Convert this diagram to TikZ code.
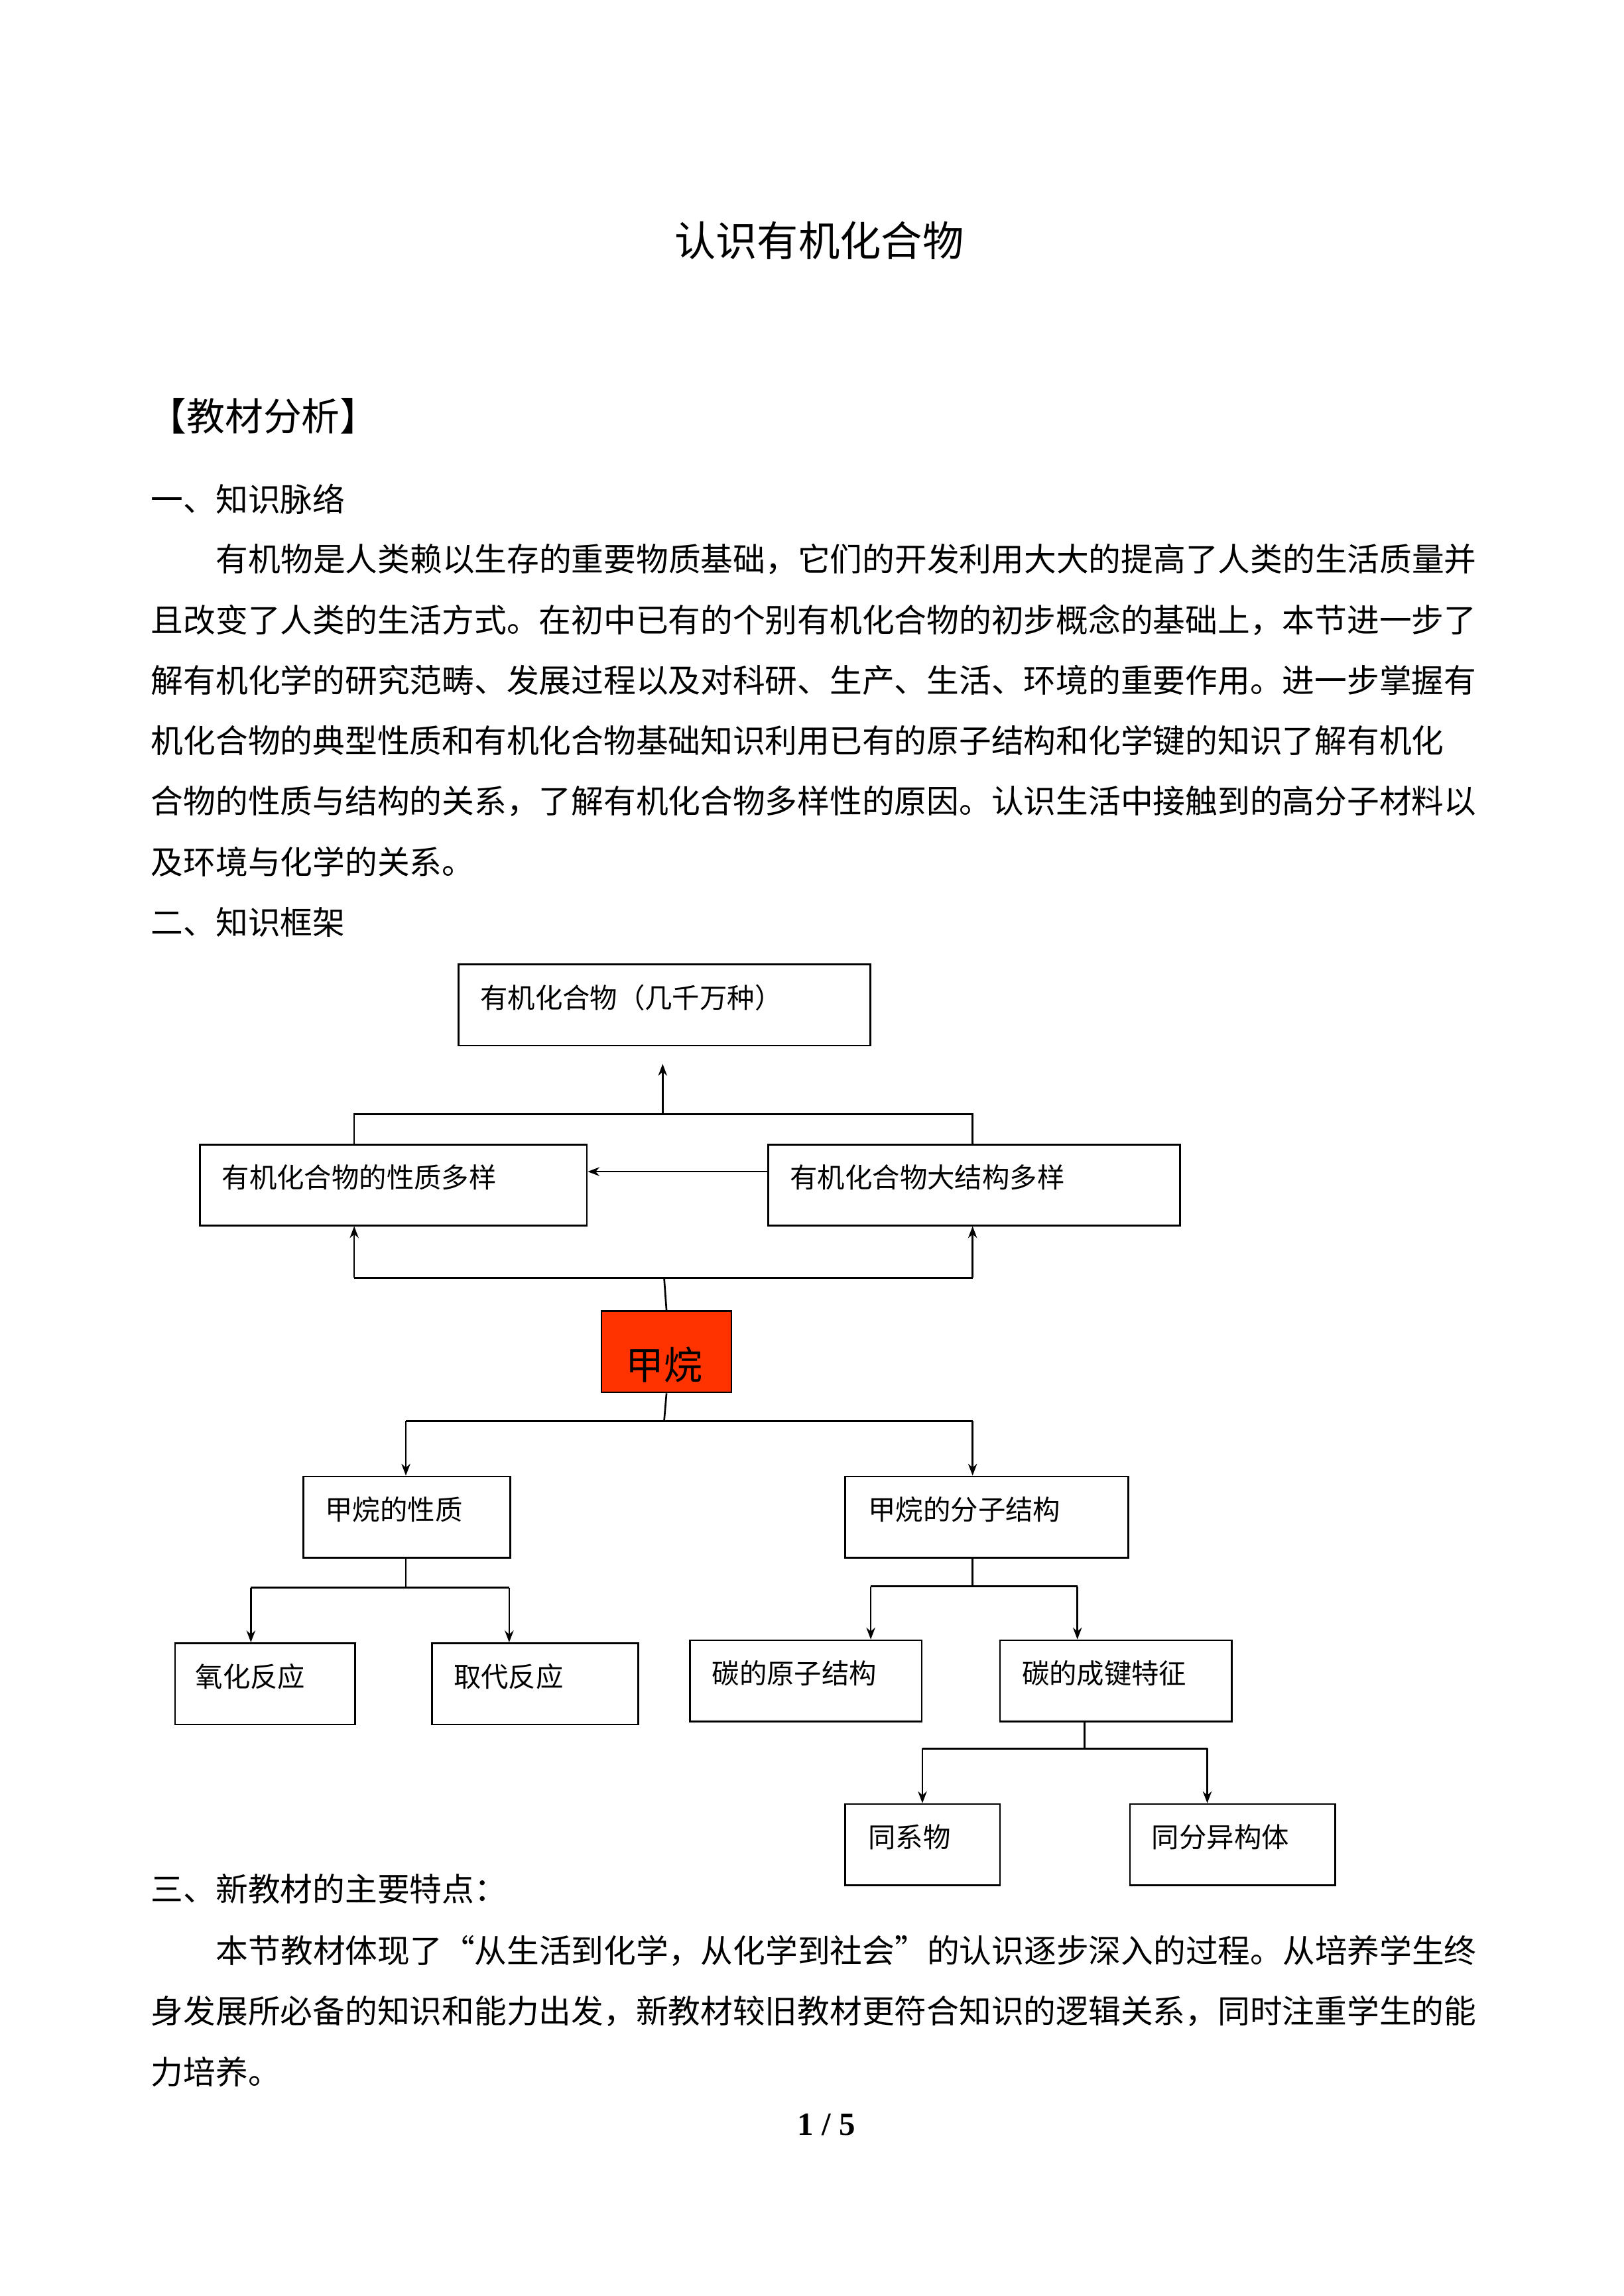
\documentclass[tikz,border=0pt]{standalone}
\usepackage{fontspec}
\setmainfont{Liberation Serif}
\newfontfamily\cjk{Noto Sans CJK SC}
\usetikzlibrary{calc,arrows.meta}
\begin{document}
\begin{tikzpicture}[x=0.5pt,y=-0.5pt,
  box/.style={draw,line width=0.6pt,minimum height=27.5pt,inner sep=0pt,anchor=north west},
  lbl/.style={anchor=west,inner sep=0pt,font=\cjk\fontsize{9.3pt}{11pt}\selectfont},
  txt/.style={anchor=west,inner sep=0pt,font=\cjk\fontsize{10.95pt}{13pt}\selectfont},
  ln/.style={line width=0.6pt},
  arr/.style={line width=0.6pt,-{Stealth[length=4pt,width=3pt]}}]
\useasboundingbox (0,0) rectangle (1100,1556);
\node[inner sep=0pt,font=\cjk\fontsize{14pt}{16pt}\selectfont] (title) at (555,163) {认识有机化合物};
\node[txt,font=\cjk\fontsize{13pt}{15pt}\selectfont] (h1) at (100,282) {【教材分析】};
\node[txt] (s1) at (102,338) {一、知识脉络};
\node[txt] (p1) at (146,379) {有机物是人类赖以生存的重要物质基础，它们的开发利用大大的提高了人类的生活质量并};
\node[txt] (p2) at (102,420) {且改变了人类的生活方式。在初中已有的个别有机化合物的初步概念的基础上，本节进一步了};
\node[txt] (p3) at (102,461) {解有机化学的研究范畴、发展过程以及对科研、生产、生活、环境的重要作用。进一步掌握有};
\node[txt] (p4) at (102,502) {机化合物的典型性质和有机化合物基础知识利用已有的原子结构和化学键的知识了解有机化};
\node[txt] (p5) at (102,543) {合物的性质与结构的关系，了解有机化合物多样性的原因。认识生活中接触到的高分子材料以};
\node[txt] (p6) at (102,584) {及环境与化学的关系。};
\node[txt] (s2) at (102,625) {二、知识框架};
\node[txt] (s3) at (102,1280) {三、新教材的主要特点：};
\node[txt] (q1) at (146,1322) {本节教材体现了“从生活到化学，从化学到社会”的认识逐步深入的过程。从培养学生终};
\node[txt] (q2) at (102,1363) {身发展所必备的知识和能力出发，新教材较旧教材更符合知识的逻辑关系，同时注重学生的能};
\node[txt] (q3) at (102,1404) {力培养。};
\node[inner sep=0pt,font=\bfseries\fontsize{11pt}{13pt}\selectfont] (pg) at (560,1440) {1 / 5};

% boxes
\node[box,minimum width=139.5pt] (top) at (310,653) {};
\node[lbl] (ttop) at (325,676) {有机化合物（几千万种）};
\node[box,minimum width=131pt] (L) at (135,775) {};
\node[lbl] (tL) at (150,798) {有机化合物的性质多样};
\node[box,minimum width=139.5pt] (R) at (520,775) {};
\node[lbl] (tR) at (535,798) {有机化合物大结构多样};
\node[box,minimum width=44pt,fill={rgb,255:red,255;green,51;blue,0}] (ch4) at (407,888) {};
\node[inner sep=0pt,font=\cjk\fontsize{13pt}{15pt}\selectfont] (tch4) at (450,925) {甲烷};
\node[box,minimum width=70pt] (xz) at (205,1000) {};
\node[lbl] (txz) at (220,1023) {甲烷的性质};
\node[box,minimum width=96pt] (fz) at (572,1000) {};
\node[lbl] (tfz) at (588,1023) {甲烷的分子结构};
\node[box,minimum width=61pt] (yh) at (118,1113) {};
\node[lbl] (tyh) at (132,1136) {氧化反应};
\node[box,minimum width=70pt] (qd) at (292,1113) {};
\node[lbl] (tqd) at (307,1136) {取代反应};
\node[box,minimum width=78.5pt] (yz) at (467,1111) {};
\node[lbl] (tyz) at (482,1134) {碳的原子结构};
\node[box,minimum width=78.5pt] (cj) at (677,1111) {};
\node[lbl] (tcj) at (692,1134) {碳的成键特征};
\node[box,minimum width=52.5pt] (tx) at (572,1222) {};
\node[lbl] (ttx) at (588,1245) {同系物};
\node[box,minimum width=69.5pt] (tf) at (765,1222) {};
\node[lbl] (ttf) at (780,1245) {同分异构体};

% connectors
\coordinate (a1) at (240,775); \coordinate (a2) at (240,755);
\coordinate (a3) at (659,755); \coordinate (a4) at (659,775);
\coordinate (a5) at (449,755); \coordinate (a6) at (449,721);
\draw[ln] (a1) -- (a2) -- (a3) -- (a4);
\draw[arr] (a5) -- (a6);
\draw[arr] (R.west |- 0,794) -- (L.east |- 0,794);
\coordinate (b1) at (240,866); \coordinate (b2) at (659,866);
\coordinate (b3) at (240,831); \coordinate (b4) at (659,831);
\draw[ln] (b1) -- (b2); \draw[arr] (b1) -- (b3); \draw[arr] (b2) -- (b4);
\draw[ln] (450,866) -- (ch4.north);
\coordinate (c0) at (450,963); \coordinate (c1) at (275,963); \coordinate (c2) at (659,963);
\draw[ln] (ch4.south) -- (c0); \draw[ln] (c1) -- (c2);
\draw[arr] (c1) -- (xz.north -| c1); \draw[arr] (c2) -- (fz.north -| c2);
\coordinate (d0) at (275,1076); \coordinate (d1) at (170,1076); \coordinate (d2) at (345,1076);
\draw[ln] (d0 |- xz.south) -- (d0); \draw[ln] (d1) -- (d2);
\draw[arr] (d1) -- (yh.north -| d1); \draw[arr] (d2) -- (qd.north -| d2);
\coordinate (e0) at (659,1075); \coordinate (e1) at (590,1075); \coordinate (e2) at (730,1075);
\draw[ln] (e0 |- fz.south) -- (e0); \draw[ln] (e1) -- (e2);
\draw[arr] (e1) -- (yz.north -| e1); \draw[arr] (e2) -- (cj.north -| e2);
\coordinate (f0) at (735,1185); \coordinate (f1) at (625,1185); \coordinate (f2) at (818,1185);
\draw[ln] (f0 |- cj.south) -- (f0); \draw[ln] (f1) -- (f2);
\draw[arr] (f1) -- (tx.north -| f1); \draw[arr] (f2) -- (tf.north -| f2);
\end{tikzpicture}
\end{document}
